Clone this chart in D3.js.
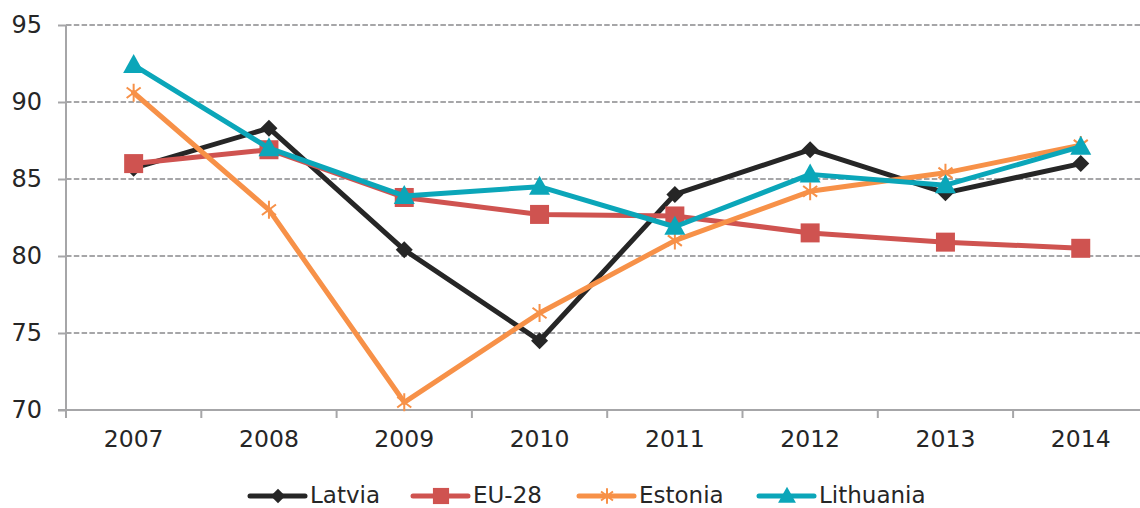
<!DOCTYPE html>
<html>
<head>
<meta charset="utf-8">
<script src="https://cdn.jsdelivr.net/npm/d3@7"></script>
<style>
  html, body { margin: 0; padding: 0; background: #fff; }
  svg { display: block; font-family: "DejaVu Sans", Verdana, sans-serif; }
</style>
</head>
<body>
<svg id="chart" width="1140" height="508"></svg>
<script>
// Index values per year (2007–2014)
const years = ["2007", "2008", "2009", "2010", "2011", "2012", "2013", "2014"];
const latvia    = [85.7, 88.3, 80.4, 74.5, 84.0, 86.9, 84.1, 86.0];
const eu28      = [86.0, 86.9, 83.8, 82.7, 82.6, 81.5, 80.9, 80.5];
const estonia   = [90.6, 83.0, 70.5, 76.3, 81.0, 84.2, 85.4, 87.2];
const lithuania = [92.4, 87.0, 83.9, 84.5, 81.9, 85.3, 84.6, 87.1];
const yTicks = [70, 75, 80, 85, 90, 95];

const series = [
  { name: "Latvia",    values: latvia,    color: "#262626", marker: "diamond" },
  { name: "EU-28",     values: eu28,      color: "#cf5350", marker: "square" },
  { name: "Estonia",   values: estonia,   color: "#f79148", marker: "star" },
  { name: "Lithuania", values: lithuania, color: "#0ba6b9", marker: "triangle" }
];

const svg = d3.select("#chart");
const plotLeft = 66, plotTop = 25, plotBottom = 410, band = 135.3;
const x = d3.scaleBand().domain(years).range([plotLeft, plotLeft + band * years.length]);
const y = d3.scaleLinear().domain([70, 95]).range([plotBottom, plotTop]);
const axisColor = "#a6a6a8";
const textColor = "#262626";

// dashed horizontal gridlines
svg.append("g").selectAll("line")
  .data(yTicks.filter(d => d > 70))
  .join("line")
  .attr("x1", plotLeft).attr("x2", 1140)
  .attr("y1", d => y(d)).attr("y2", d => y(d))
  .attr("stroke", axisColor).attr("stroke-width", 2)
  .attr("stroke-dasharray", "5.5,2.3");

// y axis
const yAxis = svg.append("g").attr("transform", `translate(${plotLeft},0)`)
  .call(d3.axisLeft(y).tickValues(yTicks).tickSize(8).tickPadding(16).tickFormat(d3.format("d")));
yAxis.select(".domain").attr("d", `M0,${plotTop}V${plotBottom + 8}`).attr("stroke", axisColor).attr("stroke-width", 2);
yAxis.selectAll(".tick line").attr("stroke", axisColor).attr("stroke-width", 2);
yAxis.selectAll(".tick text").attr("fill", textColor).style("font-size", "24px")
  .style("font-family", "'DejaVu Sans', Verdana, sans-serif");

// x axis with ticks at category boundaries
const xAxis = svg.append("g").attr("transform", `translate(0,${plotBottom})`)
  .call(d3.axisBottom(x).tickSize(0).tickPadding(20));
xAxis.select(".domain").attr("d", `M${plotLeft - 8},0H1140`).attr("stroke", axisColor).attr("stroke-width", 2);
xAxis.selectAll(".tick text").attr("fill", textColor).style("font-size", "23.5px")
  .style("font-family", "'DejaVu Sans', Verdana, sans-serif");
xAxis.append("g").selectAll("line")
  .data(years)
  .join("line")
  .attr("x1", d => x(d) + band)
  .attr("x2", d => x(d) + band)
  .attr("y1", 0).attr("y2", 8)
  .attr("stroke", axisColor).attr("stroke-width", 2);

function drawMarker(g, type, color, cx, cy, k = 1) {
  if (type === "diamond") {
    const s = 8.5 * k;
    g.append("path").attr("d", `M${cx},${cy - s}L${cx + s},${cy}L${cx},${cy + s}L${cx - s},${cy}Z`).attr("fill", color);
  } else if (type === "square") {
    const h = 9.5 * k;
    g.append("rect").attr("x", cx - h).attr("y", cy - h).attr("width", 2 * h).attr("height", 2 * h).attr("fill", color);
  } else if (type === "triangle") {
    g.append("path").attr("d", `M${cx},${cy - 11 * k}L${cx + 10.5 * k},${cy + 8 * k}L${cx - 10.5 * k},${cy + 8 * k}Z`).attr("fill", color);
  } else if (type === "star") {
    const r = 9 * k;
    const a = r * 0.78;
    g.append("path")
      .attr("d", `M${cx},${cy - r}V${cy + r}M${cx - a},${cy - a * 0.75}L${cx + a},${cy + a * 0.75}M${cx - a},${cy + a * 0.75}L${cx + a},${cy - a * 0.75}`)
      .attr("stroke", color).attr("stroke-width", 2).attr("fill", "none");
  }
}

const line = d3.line().x((d, i) => x(years[i]) + x.bandwidth() / 2).y(d => y(d));

series.forEach(s => {
  const g = svg.append("g");
  g.append("path").datum(s.values).attr("d", line)
    .attr("fill", "none").attr("stroke", s.color).attr("stroke-width", 5)
    .attr("stroke-linejoin", "round").attr("stroke-linecap", "round");
  s.values.forEach((v, i) => drawMarker(g, s.marker, s.color, x(years[i]) + x.bandwidth() / 2, y(v)));
});

// legend
const legendX = [250, 413, 579, 759];
const legend = svg.append("g");
series.forEach((s, i) => {
  const lx = legendX[i], ly = 496;
  const g = legend.append("g");
  g.append("line").attr("x1", lx).attr("x2", lx + 55).attr("y1", ly).attr("y2", ly)
    .attr("stroke", s.color).attr("stroke-width", 5).attr("stroke-linecap", "round");
  drawMarker(g, s.marker, s.color, lx + 28, ly, 0.85);
  g.append("text").attr("x", lx + 60).attr("y", 503)
    .attr("fill", textColor).style("font-size", "23px").text(s.name);
});
</script>
</body>
</html>
